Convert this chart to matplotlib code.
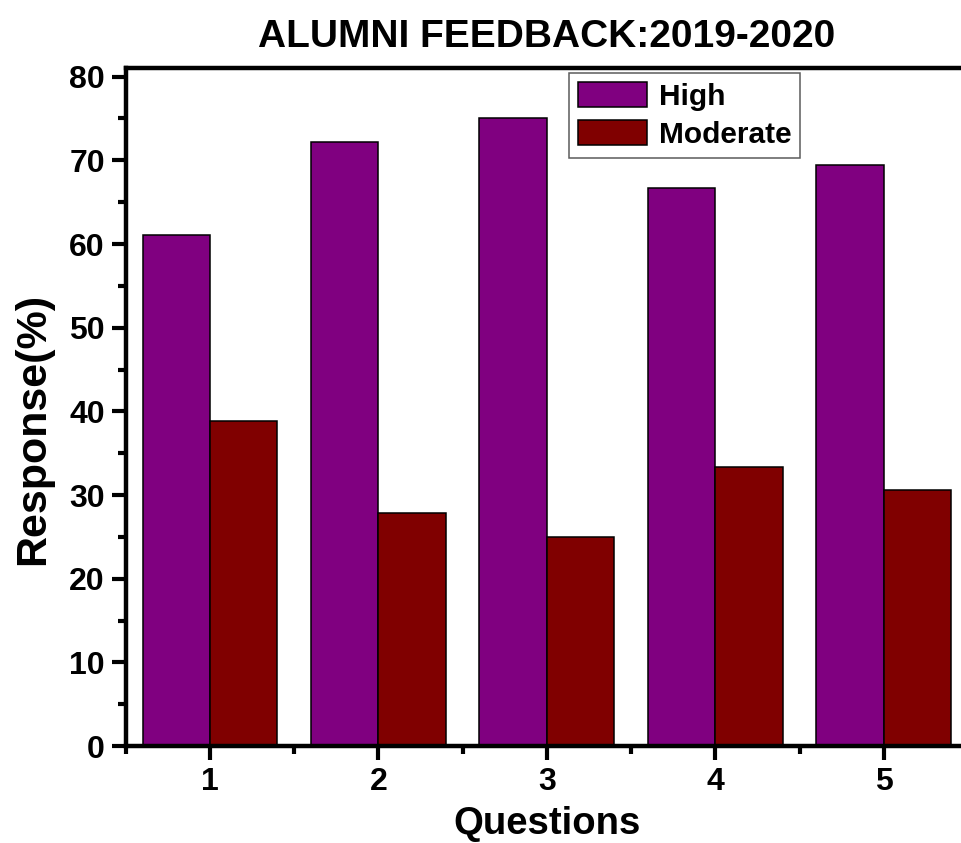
import numpy as np
import matplotlib
matplotlib.use("Agg")
import matplotlib.pyplot as plt
from matplotlib.ticker import MultipleLocator, FixedLocator

plt.rcParams['font.family'] = ['Liberation Sans', 'DejaVu Sans']
plt.rcParams['font.weight'] = 'bold'

# data
questions = [1, 2, 3, 4, 5]
high = [61.1, 72.2, 75.0, 66.7, 69.4]
moderate = [38.9, 27.8, 25.0, 33.3, 30.6]

fig = plt.figure(figsize=(9.62, 8.43), dpi=100)
# right spine sits just outside the picture, as in the reference
ax = fig.add_axes([0.1307, 0.115, 0.8755, 0.804])

x = np.array(questions, dtype=float)
w = 0.4
ax.bar(x - w / 2, high, w, color='#800080', edgecolor='black', linewidth=1.1, label='High')
ax.bar(x + w / 2, moderate, w, color='#800000', edgecolor='black', linewidth=1.1, label='Moderate')

ax.set_xlim(0.5, 5.5)
ax.set_ylim(0, 81)
ax.set_xticks(questions)
ax.xaxis.set_minor_locator(FixedLocator(np.arange(0.5, 6, 1.0)))
ax.yaxis.set_major_locator(MultipleLocator(10))
ax.yaxis.set_minor_locator(MultipleLocator(5))

for s in ax.spines.values():
    s.set_linewidth(3.2)
ax.tick_params(which='major', direction='out', length=10, width=3.0, labelsize=23, pad=5)
ax.tick_params(which='minor', direction='out', length=5.5, width=3.0)
ax.tick_params(top=False, right=False, which='both')
for lab in ax.get_xticklabels() + ax.get_yticklabels():
    lab.set_fontweight('bold')

ax.set_xlabel('Questions', fontsize=27.5, fontweight='bold')
ax.xaxis.set_label_coords(0.5, -0.089)
ax.set_ylabel('Response(%)', fontsize=31, fontweight='bold')
ax.yaxis.set_label_coords(-0.086, 0.468)
ax.set_title('ALUMNI FEEDBACK:2019-2020', fontsize=28, fontweight='bold', pad=15)

leg = ax.legend(loc='upper left', bbox_to_anchor=(0.5263, 0.9926), fontsize=21.5,
                frameon=True, fancybox=False, handlelength=2.3, handleheight=0.9,
                borderpad=0.3, labelspacing=0.3, handletextpad=0.4, borderaxespad=0)
leg.get_frame().set_edgecolor('#333333')
leg.get_frame().set_linewidth(1.1)
for t in leg.get_texts():
    t.set_fontweight('bold')

fig.savefig('out.png', dpi=100)
